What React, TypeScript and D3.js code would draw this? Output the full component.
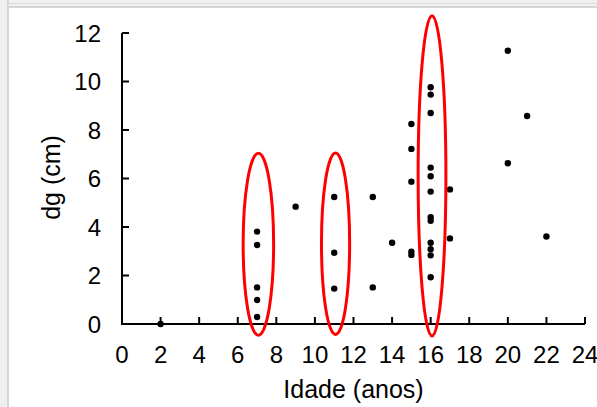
import React from "react";
import * as d3 from "d3";

const ages = [2, 7, 7, 7, 7, 7, 9, 11, 11, 11, 13, 13, 14, 15, 15, 15, 15, 15, 16, 16, 16, 16, 16, 16, 16, 16, 16, 16, 16, 16, 17, 17, 20, 20, 21, 22];
const dgs = [0, 3.81, 3.26, 1.51, 0.99, 0.29, 4.84, 5.24, 2.94, 1.46, 5.24, 1.51, 3.35, 8.25, 7.22, 5.87, 2.98, 2.85, 9.76, 9.46, 8.7, 6.45, 6.09, 5.46, 4.4, 4.26, 3.35, 3.08, 2.83, 1.93, 5.55, 3.53, 11.27, 6.63, 8.58, 3.61];

const xTicks = [0, 2, 4, 6, 8, 10, 12, 14, 16, 18, 20, 22, 24];
const yTicks = [0, 2, 4, 6, 8, 10, 12];

// highlighted groups: age centre, age half-width, dg low, dg high
const groupAge = [7.07, 11.07, 16.07];
const groupHalfWidth = [0.79, 0.73, 0.72];
const groupLow = [-0.46, -0.43, -0.49];
const groupHigh = [7.04, 7.05, 12.71];

const xLabel = "Idade (anos)";
const yLabel = "dg (cm)";

export default function App() {
  const W = 597, H = 407;
  const x = d3.scaleLinear().domain([0, 24]).range([122, 585]);
  const y = d3.scaleLinear().domain([0, 12]).range([324, 33]);
  const font = "'Liberation Sans', Arial, sans-serif";
  const x0 = x(0), y0 = y(0);

  return (
    <svg width={W} height={H} style={{ position: "absolute", left: 0, top: 0 }} fontFamily={font}>
      <rect x={0} y={0} width={W} height={H} fill="#ffffff" />
      {/* frame */}
      <rect x={0} y={0} width={8} height={H} fill="#f0f0f0" />
      <rect x={0} y={0} width={W} height={7} fill="#f0f0f0" />
      <rect x={9} y={3} width={W} height={1} fill="#dcdcdc" />
      <rect x={9} y={6} width={W} height={2} fill="#d6d6d6" />
      <rect x={7} y={0} width={2} height={H} fill="#d6d6d6" />

      {/* axes */}
      <line x1={x0} y1={y(12)} x2={x0} y2={y0} stroke="#000" strokeWidth={2} />
      <line x1={x0 - 1} y1={y0} x2={x(24)} y2={y0} stroke="#000" strokeWidth={2} />
      {yTicks.map((t) => (
        <g key={"y" + t}>
          <line x1={x0} x2={x0 + 7} y1={y(t)} y2={y(t)} stroke="#000" strokeWidth={2} />
          <text x={101} y={y(t) + 8.5} textAnchor="end" fontSize={24} fill="#000">{t}</text>
        </g>
      ))}
      {xTicks.map((t) => (
        <g key={"x" + t}>
          <line x1={x(t)} x2={x(t)} y1={y0} y2={y0 - 7} stroke="#000" strokeWidth={2} />
          <text x={x(t)} y={363} textAnchor="middle" fontSize={24} fill="#000">{t}</text>
        </g>
      ))}

      {/* points */}
      {ages.map((a, i) => (
        <circle key={i} cx={x(a)} cy={y(dgs[i])} r={3.2} fill="#000" />
      ))}

      {/* ellipses */}
      {groupAge.map((a, i) => {
        const cx = x(a);
        const rx = x(a + groupHalfWidth[i]) - cx;
        const cy = (y(groupLow[i]) + y(groupHigh[i])) / 2;
        const ry = (y(groupLow[i]) - y(groupHigh[i])) / 2;
        return <ellipse key={"e" + i} cx={cx} cy={cy} rx={rx} ry={ry} fill="none" stroke="#ff0000" strokeWidth={3} />;
      })}

      {/* titles */}
      <text x={353.5} y={398} textAnchor="middle" fontSize={25} fill="#000">{xLabel}</text>
      <text transform={`translate(60,177.5) rotate(-90)`} textAnchor="middle" fontSize={25} fill="#000">{yLabel}</text>
    </svg>
  );
}
